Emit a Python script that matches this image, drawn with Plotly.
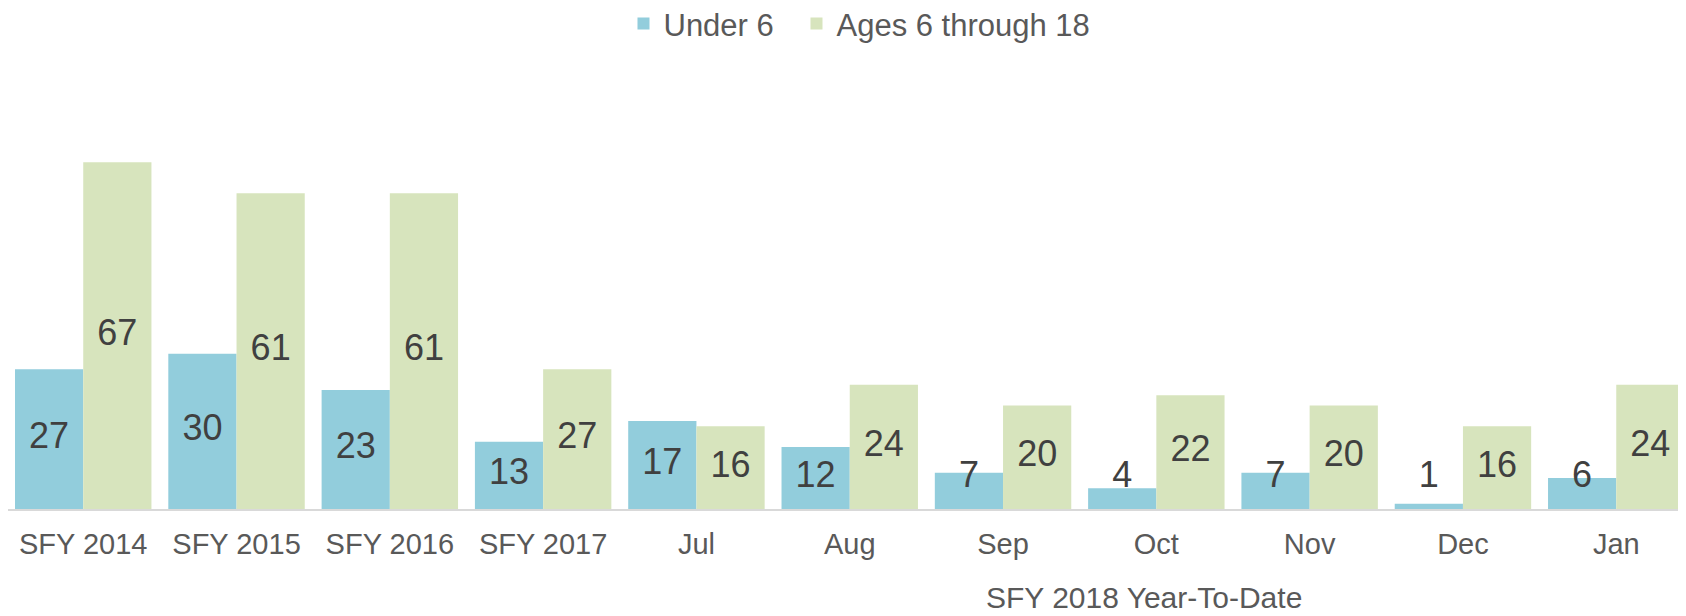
import plotly.graph_objects as go

categories = ["SFY 2014", "SFY 2015", "SFY 2016", "SFY 2017", "Jul", "Aug", "Sep", "Oct", "Nov", "Dec", "Jan"]
under6 = [27, 30, 23, 13, 17, 12, 7, 4, 7, 1, 6]
ages6_18 = [67, 61, 61, 27, 16, 24, 20, 22, 20, 16, 24]
series_names = ["Under 6", "Ages 6 through 18"]
group_label = "SFY 2018 Year-To-Date"

BLUE = "#92CDDC"
GREEN = "#D7E4BD"
FONT = "Arial, Liberation Sans, sans-serif"
BARGAP = 0.11
MIN_LABEL_Y = 6.0

# page body adds an 8px offset, so the figure is sized to fit the window
W, H = 1678, 608

xs = list(range(len(categories)))
half = (1 - BARGAP) / 4

fig = go.Figure()
fig.add_trace(go.Bar(x=xs, y=under6, name=series_names[0], marker_color=BLUE,
                     marker_line_width=0, legend="legend"))
fig.add_trace(go.Bar(x=xs, y=ages6_18, name=series_names[1], marker_color=GREEN,
                     marker_line_width=0, legend="legend2"))

for vals, sign in ((under6, -1), (ages6_18, 1)):
    fig.add_trace(go.Scatter(
        x=[x + sign * half for x in xs],
        y=[max(v / 2, MIN_LABEL_Y) for v in vals],
        text=[str(v) for v in vals],
        mode="text",
        textposition="middle center",
        textfont=dict(size=36, color="#404040", family=FONT),
        showlegend=False, hoverinfo="skip", cliponaxis=False,
    ))

fig.add_annotation(text=group_label, xref="paper", yref="paper",
                   x=0.6767, y=-0.2585, xanchor="center", yanchor="bottom",
                   showarrow=False, font=dict(size=30, color="#595959", family=FONT))

legend_common = dict(orientation="h", xanchor="left", xref="container",
                     y=0.974, yanchor="middle", yref="container",
                     font=dict(size=31, color="#595959", family=FONT),
                     itemclick=False, bgcolor="rgba(0,0,0,0)")

fig.update_layout(
    width=W, height=H,
    margin=dict(l=0, r=0, t=87, b=107, autoexpand=False),
    paper_bgcolor="white", plot_bgcolor="white",
    barmode="group", bargap=BARGAP, bargroupgap=0,
    font=dict(family=FONT, color="#595959", size=29),
    legend=dict(x=0.3668, **legend_common),
    legend2=dict(x=0.4699, **legend_common),
    xaxis=dict(range=[-0.4907, 10.455], tickmode="array", tickvals=xs, ticktext=categories,
               showgrid=False, zeroline=False, showline=True, linecolor="#D9D9D9",
               linewidth=2, ticks="", tickfont=dict(size=29, color="#595959", family=FONT),
               ticklabelstandoff=8, automargin=False),
    yaxis=dict(range=[0, 80], visible=False, showgrid=False, zeroline=False, automargin=False),
)

fig.write_html("out.html")
